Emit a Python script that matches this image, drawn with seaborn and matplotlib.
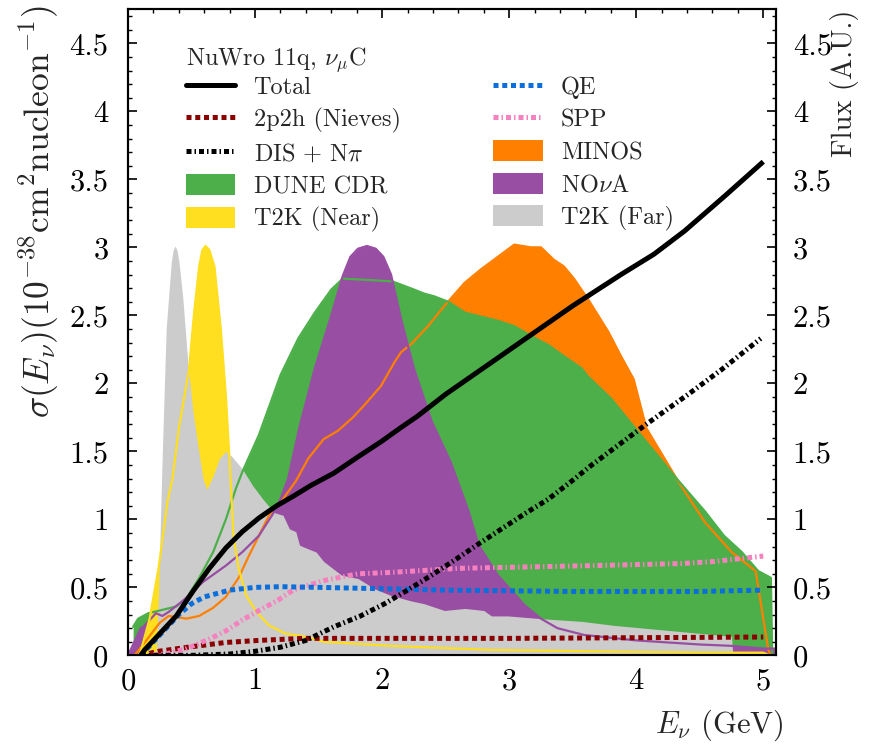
import numpy as np
import pandas as pd
import matplotlib
matplotlib.use("Agg")
import matplotlib.pyplot as plt
import seaborn as sns
from matplotlib.lines import Line2D
from matplotlib.patches import Patch
from matplotlib.ticker import MultipleLocator, FixedLocator, FixedFormatter

# ---------------- data ----------------
# Flux shapes (arbitrary units, peak normalised to 3)
dune_E = [0.04, 0.08, 0.16, 0.25, 0.38, 0.46, 0.56, 0.67, 0.77, 0.85, 0.90, 1.03, 1.20, 1.34, 1.47,
          1.60, 1.69, 1.90, 2.08, 2.25, 2.33, 2.41, 2.52, 2.65, 2.78, 2.91, 3.04, 3.17, 3.31, 3.43,
          3.57, 3.62, 3.80, 4.00, 4.30, 4.41, 4.54, 4.69, 4.83, 4.96, 5.06, 5.07]
dune_F = [0.21, 0.27, 0.31, 0.33, 0.36, 0.42, 0.57, 0.76, 1.00, 1.23, 1.35, 1.62, 2.06, 2.33, 2.52,
          2.69, 2.77, 2.76, 2.75, 2.69, 2.66, 2.64, 2.60, 2.52, 2.49, 2.46, 2.42, 2.35, 2.28, 2.20,
          2.11, 2.05, 1.89, 1.66, 1.32, 1.20, 1.06, 0.88, 0.76, 0.62, 0.57, 0.0]

minos_E = [0.05, 0.12, 0.20, 0.25, 0.32, 0.46, 0.56, 0.67, 0.77, 0.87, 0.95, 1.03, 1.11, 1.22, 1.32,
           1.42, 1.54, 1.65, 1.77, 1.86, 1.99, 2.10, 2.15, 2.23, 2.36, 2.49, 2.65, 2.78, 2.91, 3.04,
           3.17, 3.25, 3.35, 3.43, 3.51, 3.62, 3.78, 3.88, 3.98, 4.08, 4.33, 4.54, 4.75, 4.94, 5.04, 5.06]
minos_F = [0.00, 0.08, 0.18, 0.24, 0.29, 0.27, 0.29, 0.35, 0.43, 0.57, 0.73, 0.88, 1.03, 1.15, 1.28,
           1.45, 1.59, 1.65, 1.75, 1.84, 1.98, 2.16, 2.23, 2.29, 2.42, 2.57, 2.74, 2.84, 2.93, 3.02,
           3.00, 3.00, 2.91, 2.86, 2.77, 2.62, 2.38, 2.20, 2.03, 1.67, 1.28, 0.98, 0.76, 0.62, 0.04, 0.0]

nova_E = [0.00, 0.05, 0.10, 0.12, 0.16, 0.22, 0.27, 0.32, 0.43, 0.59, 0.77, 0.90, 1.03, 1.14, 1.20,
          1.26, 1.35, 1.47, 1.60, 1.69, 1.75, 1.81, 1.88, 1.95, 2.01, 2.07, 2.15, 2.25, 2.39, 2.54,
          2.68, 2.76, 2.91, 3.12, 3.25, 3.38, 3.59, 4.00, 4.50, 4.75, 5.00, 5.09]
nova_F = [0.00, 0.10, 0.20, 0.21, 0.25, 0.31, 0.29, 0.32, 0.40, 0.54, 0.66, 0.76, 0.88, 1.04, 1.15,
          1.30, 1.68, 2.11, 2.50, 2.79, 2.93, 2.99, 3.01, 2.99, 2.93, 2.80, 2.47, 2.11, 1.72, 1.42,
          1.06, 0.81, 0.59, 0.37, 0.27, 0.20, 0.15, 0.11, 0.08, 0.07, 0.05, 0.05]

t2kn_E = [0.08, 0.10, 0.17, 0.24, 0.31, 0.35, 0.40, 0.48, 0.52, 0.56, 0.585, 0.61, 0.64, 0.68, 0.73,
          0.77, 0.80, 0.83, 0.87, 0.93, 1.01, 1.11, 1.24, 1.38, 1.54, 2.07, 2.86, 3.65, 4.50, 5.00, 5.05]
t2kn_F = [0.00, 0.03, 0.27, 0.64, 1.13, 1.30, 1.67, 2.10, 2.52, 2.86, 2.98, 3.01, 2.98, 2.86, 2.40,
          1.91, 1.42, 0.88, 0.64, 0.44, 0.32, 0.22, 0.16, 0.14, 0.10, 0.07, 0.04, 0.03, 0.02, 0.02, 0.0]

t2kf_E = [0.22, 0.24, 0.255, 0.27, 0.30, 0.34, 0.355, 0.37, 0.385, 0.40, 0.43, 0.47, 0.51, 0.55, 0.59,
          0.62, 0.67, 0.72, 0.77, 0.82, 0.90, 0.98, 1.06, 1.15, 1.22, 1.27, 1.32, 1.35, 1.40, 1.48,
          1.54, 1.68, 1.81, 1.94, 2.07, 2.23, 2.33, 2.49, 2.65, 2.80, 2.86, 2.99, 3.25, 3.57, 3.83,
          4.35, 4.75, 4.76]
t2kf_F = [0.00, 0.45, 1.00, 1.50, 2.40, 2.89, 2.98, 3.01, 2.98, 2.90, 2.64, 2.16, 1.80, 1.54, 1.30,
          1.22, 1.32, 1.45, 1.50, 1.46, 1.37, 1.25, 1.15, 1.05, 1.03, 0.93, 0.91, 0.81, 0.79, 0.76,
          0.69, 0.59, 0.565, 0.49, 0.44, 0.40, 0.38, 0.33, 0.345, 0.33, 0.29, 0.29, 0.27, 0.25, 0.22,
          0.175, 0.14, 0.0]

# Cross sections (1e-38 cm^2 / nucleon)
total_E = [0.10, 0.13, 0.24, 0.38, 0.51, 0.64, 0.77, 0.90, 1.03, 1.17, 1.30, 1.44, 1.62, 1.81, 1.99,
           2.14, 2.28, 2.50, 2.70, 2.90, 3.10, 3.30, 3.50, 3.88, 4.14, 4.38, 4.70, 5.00]
total_X = [0.00, 0.04, 0.15, 0.29, 0.47, 0.64, 0.79, 0.91, 1.01, 1.10, 1.17, 1.25, 1.34, 1.46, 1.57,
           1.67, 1.76, 1.92, 2.05, 2.18, 2.31, 2.44, 2.57, 2.80, 2.95, 3.12, 3.38, 3.63]

qe_E = [0.10, 0.20, 0.30, 0.40, 0.50, 0.60, 0.80, 1.00, 1.20, 1.50, 2.00, 2.50, 3.00, 3.50, 4.00, 4.50, 5.00]
qe_X = [0.00, 0.10, 0.20, 0.30, 0.38, 0.43, 0.48, 0.50, 0.505, 0.50, 0.49, 0.48, 0.475, 0.47, 0.47, 0.47, 0.48]

mec_E = [0.10, 0.24, 0.51, 0.77, 1.03, 1.38, 2.00, 3.00, 4.00, 5.00]
mec_X = [0.00, 0.03, 0.065, 0.095, 0.11, 0.125, 0.125, 0.125, 0.13, 0.135]

spp_E = [0.10, 0.30, 0.46, 0.64, 0.77, 0.90, 1.03, 1.17, 1.30, 1.40, 1.54, 1.81, 2.07, 2.60, 3.65, 4.35, 4.61, 5.00]
spp_X = [0.00, 0.01, 0.05, 0.12, 0.18, 0.26, 0.33, 0.40, 0.48, 0.51, 0.55, 0.60, 0.61, 0.64, 0.66, 0.675, 0.69, 0.73]

dis_E = [0.10, 0.50, 0.80, 1.00, 1.20, 1.40, 1.62, 1.83, 2.02, 2.20, 2.39, 2.57, 2.76, 2.94, 3.12,
         3.31, 3.49, 3.65, 4.08, 4.41, 4.67, 4.98]
dis_X = [0.00, 0.00, 0.01, 0.03, 0.06, 0.11, 0.21, 0.29, 0.38, 0.48, 0.59, 0.70, 0.82, 0.93, 1.04,
         1.15, 1.28, 1.40, 1.70, 1.92, 2.10, 2.33]

x_ticks = [0, 1, 2, 3, 4, 5]
x_tick_labels = ["0", "1", "2", "3", "4", "5"]
y_ticks = [0, 0.5, 1, 1.5, 2, 2.5, 3, 3.5, 4, 4.5]
y_tick_labels = ["0", "0.5", "1", "1.5", "2", "2.5", "3", "3.5", "4", "4.5"]

# ---------------- style ----------------
sns.set_theme(style="ticks")
plt.rcParams.update({
    "font.family": ["cmr10", "DejaVu Serif"],
    "mathtext.fontset": "cm",
    "axes.formatter.use_mathtext": True,
    "axes.linewidth": 1.5,
    "xtick.direction": "in", "ytick.direction": "in",
    "xtick.major.size": 6.5, "ytick.major.size": 6.5,
    "xtick.minor.size": 3.2, "ytick.minor.size": 3.2,
    "xtick.major.width": 1.2, "ytick.major.width": 1.2,
    "xtick.minor.width": 1.0, "ytick.minor.width": 1.0,
    "xtick.color": "black", "ytick.color": "black",
    "axes.edgecolor": "black",
})

C_DUNE = "#4daf4a"
C_MINOS = "#ff7f00"
C_NOVA = "#984ea3"
C_T2KN = "#ffdf1f"
C_T2KF = "#cccccc"
C_QE = "#0a6edb"
C_MEC = "#8b0000"
C_SPP = "#f781bf"

TICK_FS = 22
fig = plt.figure(figsize=(8.8, 7.49), dpi=100)
ax = fig.add_axes([0.1455, 0.125, 0.7363, 0.8625])

fluxes = [
    ("MINOS", minos_E, minos_F, C_MINOS, 1),
    ("DUNE CDR", dune_E, dune_F, C_DUNE, 2),
    ("NOvA", nova_E, nova_F, C_NOVA, 3),
    ("T2K (Near)", t2kn_E, t2kn_F, C_T2KN, 4),
    ("T2K (Far)", t2kf_E, t2kf_F, C_T2KF, 5),
]
for name, E, F, c, z in fluxes:
    ax.fill_between(E, 0, F, color=c, lw=0, zorder=z)
for name, E, F, c, z in fluxes:
    if name == "T2K (Far)":
        continue
    df = pd.DataFrame({"E": E, "F": F})
    sns.lineplot(data=df, x="E", y="F", ax=ax, color=c, lw=1.6, estimator=None,
                 sort=False, zorder=6 + 0.1 * z)

LW = 3.6
DOT = (0, (1.0, 0.75))
DASHDOT = (0, (1.0, 0.6, 0.3, 0.6))
xsecs = [
    ("2p2h", mec_E, mec_X, C_MEC, DOT),
    ("SPP", spp_E, spp_X, C_SPP, DASHDOT),
    ("QE", qe_E, qe_X, C_QE, DOT),
    ("DIS", dis_E, dis_X, "black", DASHDOT),
    ("Total", total_E, total_X, "black", "-"),
]
for i, (name, E, X, c, ls) in enumerate(xsecs):
    df = pd.DataFrame({"E": E, "X": X})
    sns.lineplot(data=df, x="E", y="X", ax=ax, color=c, lw=LW, linestyle=ls,
                 estimator=None, sort=False, zorder=10 + i)
for ln in ax.lines[-5:]:
    ln.set_solid_capstyle("butt")
    ln.set_dash_capstyle("butt")

ax.set_xlim(0, 5.1)
ax.set_ylim(0, 4.75)
ax.xaxis.set_major_locator(FixedLocator(x_ticks))
ax.xaxis.set_major_formatter(FixedFormatter(x_tick_labels))
ax.yaxis.set_major_locator(FixedLocator(y_ticks))
ax.yaxis.set_major_formatter(FixedFormatter(y_tick_labels))
ax.xaxis.set_minor_locator(MultipleLocator(0.2))
ax.yaxis.set_minor_locator(MultipleLocator(0.1))
ax.tick_params(which="both", top=True, right=False, labelsize=TICK_FS)
ax.tick_params(axis="y", pad=14)
ax.tick_params(axis="x", pad=9)
ax.set_xlabel(r"$E_\nu$ (GeV)", fontsize=22)
ax.xaxis.set_label_coords(1.012, -0.08)
ax.xaxis.label.set_ha("right")
ax.set_ylabel(r"$\sigma(E_\nu)(10^{-38}\mathrm{cm}^2\mathrm{nucleon}^{-1})$", fontsize=25.5, loc="top")
ax.yaxis.set_label_coords(-0.103, 1.006)

ax2 = ax.twinx()
ax2.set_ylim(0, 4.75)
ax2.yaxis.set_major_locator(FixedLocator(y_ticks))
ax2.yaxis.set_major_formatter(FixedFormatter(y_tick_labels))
ax2.yaxis.set_minor_locator(MultipleLocator(0.1))
ax2.tick_params(which="both", direction="in", labelsize=TICK_FS, pad=12)
ax2.set_ylabel("Flux (A.U.)", fontsize=20.5, loc="top")
ax2.yaxis.set_label_coords(1.084, 1.0)
for sp in ax2.spines.values():
    sp.set_linewidth(1.5)

handles = [
    Line2D([], [], color="black", lw=LW),
    Line2D([], [], color=C_MEC, lw=LW, ls=DOT, dash_capstyle="butt"),
    Line2D([], [], color="black", lw=LW, ls=DASHDOT, dash_capstyle="butt"),
    Patch(color=C_DUNE, lw=0),
    Patch(color=C_T2KN, lw=0),
    Line2D([], [], color=C_QE, lw=LW, ls=DOT, dash_capstyle="butt"),
    Line2D([], [], color=C_SPP, lw=LW, ls=DASHDOT, dash_capstyle="butt"),
    Patch(color=C_MINOS, lw=0),
    Patch(color=C_NOVA, lw=0),
    Patch(color=C_T2KF, lw=0),
]
labels = ["Total", "2p2h (Nieves)", r"DIS$\,+\,$N$\pi$", "DUNE CDR", "T2K (Near)",
          "QE", "SPP", "MINOS", r"NO$\nu$A", "T2K (Far)"]
ax2.text(186 / 880, 1 - 55 / 749, r"NuWro 11q, $\nu_\mu$C", transform=fig.transFigure,
         fontsize=17.5, ha="left", va="center_baseline")
leg = ax2.legend(handles, labels, ncol=2, loc="upper left", bbox_to_anchor=(0.07, 0.917),
                 borderpad=0.0, frameon=False, fontsize=17.5,
                 handlelength=2.05, handleheight=0.95,
                 handletextpad=0.75, columnspacing=3.8, labelspacing=0.36)

fig.savefig("out.png", dpi=100)
